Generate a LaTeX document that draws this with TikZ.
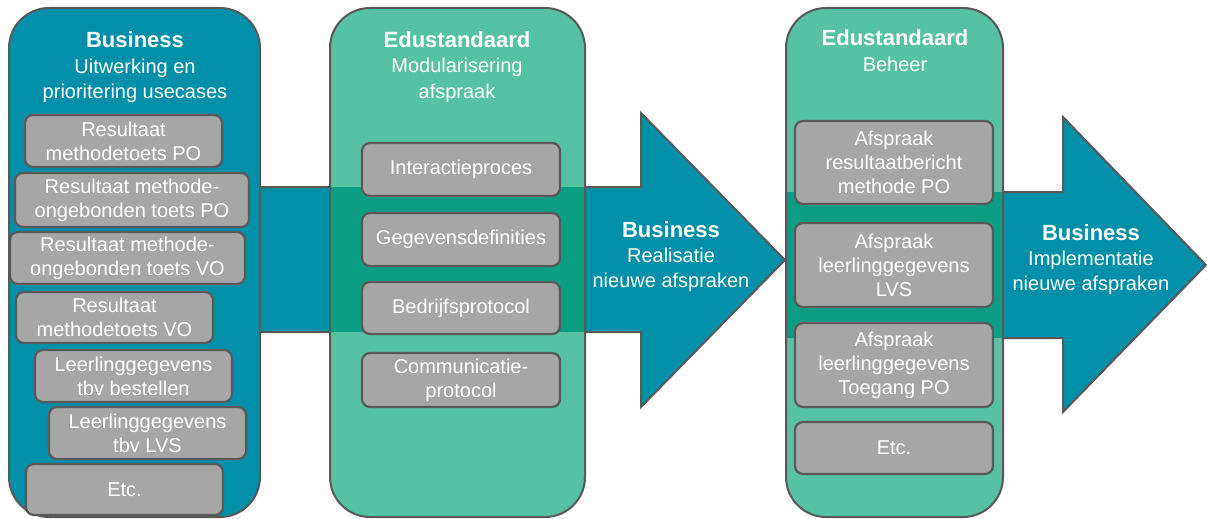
\documentclass[tikz,border=0pt]{standalone}
\usepackage{fontspec}
\setmainfont{Liberation Sans}
\definecolor{teal1}{RGB}{0,143,168}
\definecolor{green1}{RGB}{86,193,163}
\definecolor{overlap}{RGB}{12,158,130}
\definecolor{boxgray}{RGB}{166,166,166}
\definecolor{edge}{RGB}{89,89,89}
\tikzset{
 colbox/.style={draw=edge, line width=2pt, rounded corners=40pt},
 gbox/.style={draw=edge, line width=2.2pt, fill=boxgray, rounded corners=8pt, text=white, align=center, font=\fontsize{20}{24}\selectfont, inner sep=0pt},
 ttl/.style={text=white, font=\bfseries\fontsize{22}{26}\selectfont, anchor=base},
 sub/.style={text=white, font=\fontsize{20}{24}\selectfont, anchor=base},
 arrowshape/.style={draw=edge, line width=2pt, fill=teal1, line join=miter},
}
\begin{document}
\begin{tikzpicture}[x=1pt,y=-1pt]
\useasboundingbox (0,0) rectangle (1207,519);
% arrow 1
\draw[arrowshape] (200,187) -- (641,187) -- (641,113) -- (785,260) -- (641,407) -- (641,332) -- (200,332) -- cycle;
% column 1
\draw[colbox, fill=teal1] (9,8) rectangle (260,517);
% column 2
\fill[green1, rounded corners=40pt] (330,8) rectangle (585,517);
\begin{scope}
\clip[rounded corners=40pt] (330,8) rectangle (585,517);
\fill[overlap] (320,187) rectangle (600,332);
\end{scope}
\draw[colbox] (330,8) rectangle (585,517);
% arrow 2
\draw[arrowshape] (787,192) -- (1063,192) -- (1063,117) -- (1206,265) -- (1063,412) -- (1063,338) -- (787,338) -- cycle;
% column 3
\fill[green1, rounded corners=40pt] (786,8) rectangle (1003,517);
\begin{scope}
\clip[rounded corners=40pt] (786,8) rectangle (1003,517);
\fill[overlap] (776,192) rectangle (1013,338);
\end{scope}
\draw[colbox] (786,8) rectangle (1003,517);

% titles column 1
\node[ttl] (t1a) at (135,48) {Business};
\node[sub] (t1b) at (135,74) {Uitwerking en};
\node[sub] (t1c) at (135,98) {prioritering usecases};
% titles column 2
\node[ttl] (t2a) at (457,48) {Edustandaard};
\node[sub] (t2b) at (457,73) {Modularisering};
\node[sub] (t2c) at (457,98) {afspraak};
% titles column 3
\node[ttl] (t3a) at (895,46) {Edustandaard};
\node[sub] (t3b) at (895,71) {Beheer};
% arrow 1 text
\node[ttl] (a1a) at (671,237) {Business};
\node[sub] (a1b) at (671,262) {Realisatie};
\node[sub] (a1c) at (671,287) {nieuwe afspraken};
% arrow 2 text
\node[ttl] (a2a) at (1091,240) {Business};
\node[sub] (a2b) at (1091,265) {Implementatie};
\node[sub] (a2c) at (1091,290) {nieuwe afspraken};

% boxes column 1
\node[gbox, minimum width=197, minimum height=52] (b1) at (123.5,141) {Resultaat\\methodetoets PO};
\node[gbox, minimum width=234, minimum height=54] (b2) at (132,200) {Resultaat methode-\\ongebonden toets PO};
\node[gbox, minimum width=235, minimum height=52] (b3) at (127.5,258) {Resultaat methode-\\ongebonden toets VO};
\node[gbox, minimum width=197, minimum height=51] (b4) at (114.5,317.5) {Resultaat\\methodetoets VO};
\node[gbox, minimum width=197, minimum height=52] (b5) at (133.5,376) {Leerlinggegevens\\tbv bestellen};
\node[gbox, minimum width=197, minimum height=52] (b6) at (147.5,433) {Leerlinggegevens\\tbv LVS};
\node[gbox, minimum width=197, minimum height=51] (b7) at (124.5,489.5) {Etc.};
% boxes column 2
\node[gbox, minimum width=198, minimum height=53] (m1) at (461,169.5) {Interactieproces};
\node[gbox, minimum width=198, minimum height=53] (m2) at (461,239.5) {Gegevensdefinities};
\node[gbox, minimum width=198, minimum height=52] (m3) at (461,308) {Bedrijfsprotocol};
\node[gbox, minimum width=198, minimum height=54] (m4) at (461,380) {Communicatie-\\protocol};
% boxes column 3
\node[gbox, minimum width=198, minimum height=83] (r1) at (894,162.5) {Afspraak\\resultaatbericht\\methode PO};
\node[gbox, minimum width=198, minimum height=84] (r2) at (894,265) {Afspraak\\leerlinggegevens\\LVS};
\node[gbox, minimum width=198, minimum height=84] (r3) at (894,365) {Afspraak\\leerlinggegevens\\Toegang PO};
\node[gbox, minimum width=198, minimum height=52] (r4) at (894,448) {Etc.};
\end{tikzpicture}
\end{document}
